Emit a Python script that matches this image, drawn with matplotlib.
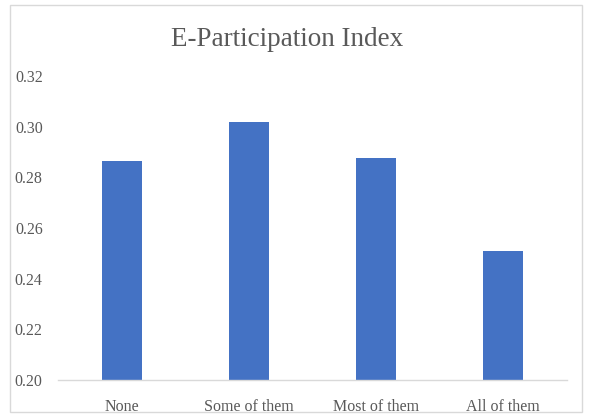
import numpy as np
import matplotlib.pyplot as plt
from matplotlib.patches import Rectangle

# data
categories = ['None', 'Some of them', 'Most of them', 'All of them']
values = [0.2864, 0.3018, 0.2876, 0.2509]
yticks = [0.20, 0.22, 0.24, 0.26, 0.28, 0.30, 0.32]

plt.rcParams['font.family'] = ['Liberation Serif', 'DejaVu Serif']

fig = plt.figure(figsize=(5.9, 4.17), dpi=100)
ax = fig.add_axes([58/590, 1 - 380/417, (567 - 58)/590, (380 - 76)/417])

x = np.arange(len(categories))
ax.bar(x, values, width=0.315, color='#4472C4')

ax.set_xlim(-0.5, len(categories) - 0.5)
ax.set_ylim(0.20, 0.32)
ax.set_yticks(yticks)
ax.set_yticklabels(['%.2f' % v for v in yticks])
ax.set_xticks(x)
ax.set_xticklabels(categories)
ax.tick_params(axis='both', length=0, labelsize=11.5, colors='#595959')
ax.tick_params(axis='y', pad=11)
ax.tick_params(axis='x', pad=14)

for s in ['top', 'right', 'left']:
    ax.spines[s].set_visible(False)
ax.spines['bottom'].set_color('#d9d9d9')
ax.spines['bottom'].set_linewidth(1.0)

fig.text(287/590, 1 - 40/417, 'E-Participation Index', ha='center', va='center',
         fontsize=19.5, color='#595959')

# chart border
fig.patches.append(Rectangle((10/590, 5/417), 572/590, 407/417, transform=fig.transFigure,
                             fill=False, edgecolor='#d9d9d9', linewidth=1.0))

plt.savefig('out.png', dpi=100)
